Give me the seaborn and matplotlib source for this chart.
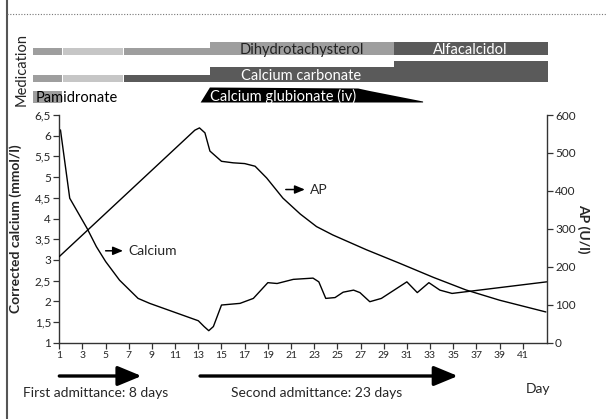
import matplotlib
matplotlib.use("Agg")
import matplotlib.pyplot as plt
import matplotlib.transforms as mtransforms
from matplotlib.lines import Line2D
from matplotlib.patches import Polygon
import seaborn as sns
import pandas as pd

# calcium (mmol/l) by day
ca_day = [1.1, 1.9, 3.4, 4.2, 5.0, 6.2, 7.8, 8.8, 13.0, 13.5, 13.9, 14.3, 15.0, 16.6, 17.75,
          19.0, 19.8, 21.2, 22.9, 23.4, 24.0, 24.8, 25.5, 26.4, 26.95, 27.8, 28.8, 31.0, 31.9,
          32.9, 33.85, 34.9, 43.07]
ca_val = [6.14, 4.49, 3.76, 3.32, 2.96, 2.51, 2.07, 1.95, 1.53, 1.39, 1.29, 1.39, 1.91, 1.95, 2.07,
          2.45, 2.43, 2.53, 2.56, 2.47, 2.07, 2.09, 2.22, 2.27, 2.21, 1.99, 2.07, 2.47, 2.21,
          2.45, 2.27, 2.19, 2.47]

# alkaline phosphatase (U/l) by day
ap_day = [1.0, 12.7, 13.1, 13.57, 14.0, 15.0, 16.0, 17.0, 17.9, 18.9, 20.3, 21.8, 23.2, 24.6,
          27.5, 30.4, 33.3, 36.1, 39.0, 43.0]
ap_val = [227, 560, 566, 553, 505, 478, 474, 472, 465, 434, 381, 339, 306, 284,
          245, 209, 172, 139, 112, 81]

x_ticks = list(range(1, 42, 2))
ca_ticks = [1, 1.5, 2, 2.5, 3, 3.5, 4, 4.5, 5, 5.5, 6, 6.5]
ap_ticks = [0, 100, 200, 300, 400, 500, 600]

# medication periods (days)
vitd_start = [-1.25, 1.3, 6.6, 14.0, 29.85]
vitd_end = [1.2, 6.5, 14.0, 29.85, 43.15]
calc_start = [-1.25, 1.3, 6.6, 14.0, 29.85]
calc_end = [1.2, 6.5, 14.0, 29.85, 43.15]
pami_start, pami_end = -1.25, 1.2
glub_start, glub_full, glub_end = 13.2, 26.8, 32.4

admit_1 = (1, 8.1)
admit_2 = (13.15, 35.4)

W, H = 606, 419
fig = plt.figure(figsize=(W / 100, H / 100), dpi=100)
sns.set_style("ticks")
plt.rcParams['font.family'] = ['Lato', 'DejaVu Sans']

L, R, T, B = 59.3, 546.7, 115, 342.7
ax = fig.add_axes([L / W, 1 - B / H, (R - L) / W, (B - T) / H])
ax2 = ax.twinx()

df_ca = pd.DataFrame({'day': ca_day, 'ca': ca_val})
df_ap = pd.DataFrame({'day': ap_day, 'ap': ap_val})
sns.lineplot(data=df_ca, x='day', y='ca', ax=ax, color='black', lw=1)
sns.lineplot(data=df_ap, x='day', y='ap', ax=ax2, color='black', lw=1)

ax.set_xlim(1, 43.07)
ax.set_ylim(1, 6.5)
ax2.set_ylim(0, 600)
ax.set_xticks(x_ticks)
ax.set_xticklabels([str(t) for t in x_ticks], fontsize=7.5)
ax.set_yticks(ca_ticks)
ax.set_yticklabels([f"{t:g}".replace('.', ',') for t in ca_ticks], fontsize=8.5)
ax2.set_yticks(ap_ticks)
ax2.set_yticklabels([str(t) for t in ap_ticks], fontsize=8.5)
for a in (ax, ax2):
    a.spines['top'].set_visible(False)
    a.tick_params(length=4, width=0.9, color='#333333', pad=2)
    for s in a.spines.values():
        s.set_color('#333333')
        s.set_linewidth(1)
ax.spines['right'].set_visible(False)
ax2.spines['left'].set_visible(False)
ax2.spines['bottom'].set_visible(False)
ax.set_xlabel('')
ax.set_ylabel('Corrected calcium (mmol/l)', fontsize=10, fontweight='bold')
ax.yaxis.set_label_coords(-0.076, 0.5)
ax2.set_ylabel('AP (U/l)', fontsize=10, fontweight='bold', rotation=270)
ax2.yaxis.set_label_coords(1.089, 0.5)

# labels with small arrows
ax.annotate('', xy=(6.5, 3.22), xytext=(5.0, 3.22),
            arrowprops=dict(arrowstyle='-|>,head_length=0.6,head_width=0.25', lw=1.1, color='black',
                            shrinkA=0, shrinkB=0))
ax.text(6.95, 3.22, 'Calcium', fontsize=10, va='center')
ax.annotate('', xy=(22.2, 4.70), xytext=(20.55, 4.70),
            arrowprops=dict(arrowstyle='-|>,head_length=0.6,head_width=0.25', lw=1.1, color='black',
                            shrinkA=0, shrinkB=0))
ax.text(22.6, 4.70, 'AP', fontsize=10, va='center')

# admittance arrows below the axis
trans = mtransforms.blended_transform_factory(ax.transData, fig.transFigure)
ya = 1 - 376 / H
for a0, a1 in (admit_1, admit_2):
    ax.annotate('', xy=(a1, ya), xytext=(a0, ya), xycoords=trans, textcoords=trans,
                arrowprops=dict(arrowstyle='-|>,head_length=1.45,head_width=0.6', lw=2.4,
                                color='black', shrinkA=0, shrinkB=0, mutation_scale=10),
                annotation_clip=False)
fig.text(22.7 / W, 1 - 393 / H, 'First admittance: 8 days', fontsize=10, va='center')
fig.text(231 / W, 1 - 393 / H, 'Second admittance: 23 days', fontsize=10, va='center')
fig.text(538 / W, 1 - 389 / H, 'Day', fontsize=10, va='center', ha='center')

# medication panel (y in pixels from top)
axm = fig.add_axes([L / W, 1 - 110 / H, (R - L) / W, 75 / H])
axm.set_xlim(1, 43.07)
axm.set_ylim(110, 35)
axm.axis('off')

mid, light, dark = '#9e9e9e', '#c6c6c6', '#5a5a5a'
vitd_style = [(52, 7, mid), (52, 7, light), (52, 7, mid), (48.5, 14, mid), (48.5, 14, dark)]
calc_style = [(78.2, 7, mid), (78.2, 7, light), (78.2, 7, dark), (74.5, 14.4, dark), (71.4, 20.6, dark)]
for s, e, (yc, h, c) in zip(vitd_start, vitd_end, vitd_style):
    axm.barh(yc, e - s, left=s, height=h, color=c, clip_on=False, linewidth=0)
for s, e, (yc, h, c) in zip(calc_start, calc_end, calc_style):
    axm.barh(yc, e - s, left=s, height=h, color=c, clip_on=False, linewidth=0)
axm.barh(97, pami_end - pami_start, left=pami_start, height=12.6, color=mid, clip_on=False, linewidth=0)

axm.add_patch(Polygon([(glub_start, 102.5), (glub_start + 0.8, 87.5), (glub_full, 88.5),
                       (glub_full + 1.0, 91), (glub_end, 101.5), (glub_end, 102.5)],
                      closed=True, color='black', clip_on=False, linewidth=0))

tk = dict(fontsize=10.5, ha='center', va='center_baseline')
axm.text(21.9, 48.8, 'Dihydrotachysterol', color='#222222', **tk)
axm.text(36.5, 48.8, 'Alfacalcidol', color='white', **tk)
axm.text(21.9, 74.8, 'Calcium carbonate', color='white', **tk)
axm.text(20.3, 95.3, 'Calcium glubionate (iv)', color='white', **tk)
axm.text(-1.05, 97, 'Pamidronate', fontsize=10.5, color='black', ha='left', va='center_baseline',
         clip_on=False)

fig.text(22 / W, 1 - 70 / H, 'Medication', fontsize=10.5, rotation=90, ha='center', va='center')

# page frame
fig.add_artist(Line2D([7 / W, 7 / W], [0, 1], transform=fig.transFigure, color='#555555', lw=1.5))
fig.add_artist(Line2D([7 / W, 1], [1 - 14 / H, 1 - 14 / H], transform=fig.transFigure,
                      color='#777777', lw=0.8, linestyle=(0, (1, 1.5))))

fig.savefig('out.png', dpi=100)
